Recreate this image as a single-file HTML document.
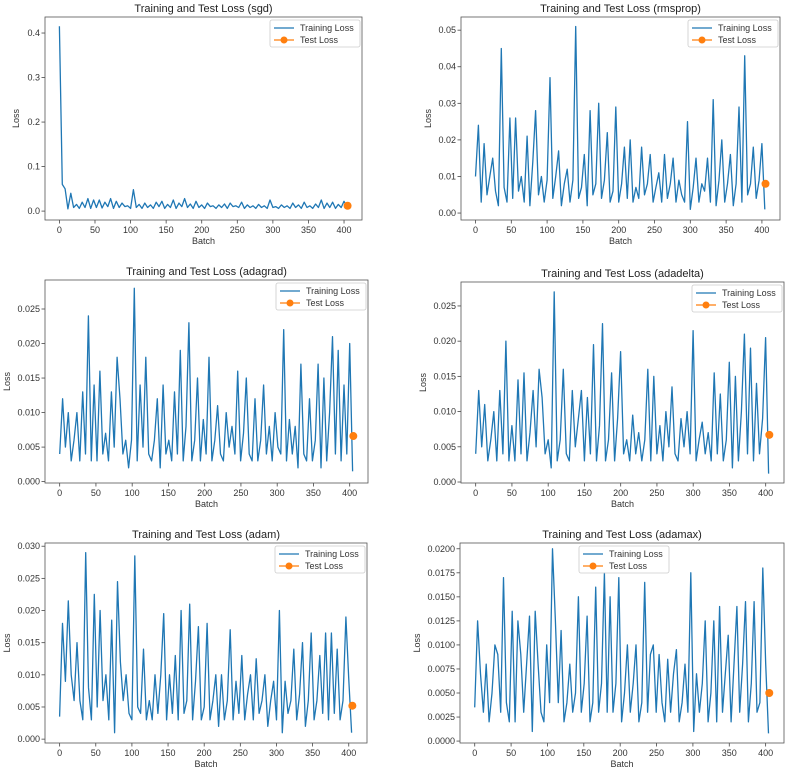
<!DOCTYPE html>
<html><head><meta charset="utf-8"><style>
body{margin:0;background:#fff;font-family:"Liberation Sans",sans-serif}
svg{display:block}
</style></head><body>
<svg id="fig" width="797" height="771" viewBox="0 0 797 771" xmlns="http://www.w3.org/2000/svg"></svg>
<script>
// All loss values in units of 1e-3; points span batches 0..lastBatch
const lastBatch = 404;
const testBatch = 405;
const sgdLoss = [415,60,50,5,40,8,15,6,20,8,28,6,25,8,25,7,20,10,28,6,22,8,18,10,12,6,48,8,15,6,18,8,14,6,20,10,22,6,15,8,25,6,18,10,28,8,16,6,22,8,14,6,18,10,12,6,14,8,16,6,18,10,12,8,20,6,14,8,12,6,15,8,12,6,25,8,10,6,14,8,12,6,18,8,14,6,20,8,12,6,16,8,25,6,18,8,20,6,15,8,22,10];
const rmspropLoss = [10,24,3,19,5,10,15,6,2,45,7,3,26,4,26,6,10,3,21,2,14,28,5,10,3,9,37,4,10,17,2,8,12,3,9,51,4,7,16,2,28,5,8,30,4,9,22,3,6,29,3,8,18,4,20,3,7,4,18,5,8,16,3,7,11,3,16,4,8,15,3,9,5,3,25,1,7,15,3,8,6,15,3,31,2,9,20,3,8,16,2,8,29,3,43,5,8,18,4,9,19,1];
const adagradLoss = [4,12,5,10,3,6,10,3,13,4,24,3,14,3,16,4,7,3,13,5,18,12,4,6,2,6,28,3,14,5,18,4,3,6,12,2,14,4,6,3,13,4,19,3,8,23,3,6,15,3,9,4,18,3,6,11,4,3,10,5,8,4,16,3,7,15,4,3,12,3,6,14,4,8,3,10,5,4,22,3,9,4,8,2,17,4,3,12,3,6,17,2,15,3,10,21,4,19,3,14,4,20,1.5];
const adadeltaLoss = [4,13,5,11,3,6,10,3,13,4,20,3,8,3,14.5,4,15.5,3,7,13,5,16,12,4,6,2,27,3,6,16,4,3,13,5,9,13,3,12,4,19.5,3,8,22.5,3,6,15.5,3,9,18.5,4,6,3,9.5,4,7,3,6,16,3,15,4,8,3,10,5,13.5,4,3,9,5,10,4,21.5,3,6,8.5,4,7,3,15.5,4,12.5,3,6,17,2,15,3,10,21,4,19,3,14,4,9,20.5,1.2];
const adamLoss = [3.5,18,9,21.5,10,6,15,6,3,29,8,3,22.5,5,20,6,10,3,18.5,1,24.5,12,6,10,4,3,28.5,5,4,14,3,6,3,10,4,10,19.5,3,10,4,13,3,20,4,6,21,3,9,17.5,3,5,18,3,6,10,2,10,3,6,17,3,9,4,13,3,7,10,3,12.5,4,6,10,2,6,9,3,20,1,9,4,6,14,3,7,15,2,6,16.5,3,6,13,4,16.5,3,16.5,4,14,3,6,19,9.5,1];
const adamaxLoss = [3.5,12.5,7,3,8,2,5,10,9,3,17,4,2,13.5,2,12.5,9,3,8,13,1,13.5,8,3,2,10,4,20,12.5,4,11.5,2,4,8,3,5,15,3,6,13,2,4,16,3,6,17.5,3,15,3,6,17,2,5,10,3,6,10,2,4,16.5,3,9,10,3,9,4,2,8.5,3,7,9.5,2,4,8,3,17.5,1,7,3,6,12.5,2,5,12.5,2,14,3,7,11,2,8,14,3,8,14.5,2,6,14.5,3,4,18,8,0.8];
const testLoss = [12,8,6.6,6.7,5.2,5.0];
const optimizers = ["sgd","rmsprop","adagrad","adadelta","adam","adamax"];
const xTicks = [0,50,100,150,200,250,300,350,400];
const yTicksSgd = [0,0.1,0.2,0.3,0.4];
const yTicksRms = [0,0.01,0.02,0.03,0.04,0.05];
const yTicksAda = [0,0.005,0.01,0.015,0.02,0.025];
const yTicksAdam = [0,0.005,0.01,0.015,0.02,0.025,0.03];
const yTicksAdamax = [0,0.0025,0.005,0.0075,0.01,0.0125,0.015,0.0175,0.02];

const series=[sgdLoss,rmspropLoss,adagradLoss,adadeltaLoss,adamLoss,adamaxLoss];
const yTickSets=[yTicksSgd,yTicksRms,yTicksAda,yTicksAda,yTicksAdam,yTicksAdamax];
const decimals=[1,2,3,3,3,4];
const boxes=[
 {l:45,r:362,t:17,b:220,ymin:-0.020,ymax:0.436,leg:'r'},
 {l:461,r:780,t:17,b:220,ymin:-0.0019,ymax:0.0536,leg:'r'},
 {l:45,r:368,t:280,b:483,ymin:-0.0002,ymax:0.0292,leg:'r'},
 {l:461,r:784,t:282,b:483,ymin:-0.00014,ymax:0.0284,leg:'r'},
 {l:45,r:367,t:543,b:743,ymin:-0.0006,ymax:0.0305,leg:'r'},
 {l:460,r:784,t:543,b:743,ymin:-0.0002,ymax:0.0206,leg:'c'}
];
const NS="http://www.w3.org/2000/svg";
const svg=document.getElementById('fig');
function mk(tag,attrs,parent){const e=document.createElementNS(NS,tag);for(const k in attrs)e.setAttribute(k,attrs[k]);parent.appendChild(e);return e;}
optimizers.forEach((opt,p)=>{
 const B=boxes[p];
 const x0=-20.25,x1=425.25;
 const sx=v=>B.l+(v-x0)/(x1-x0)*(B.r-B.l);
 const sy=v=>B.b-(v-B.ymin)/(B.ymax-B.ymin)*(B.b-B.t);
 const g=mk('g',{},svg);
 
 
 const title=mk('text',{x:(B.l+B.r)/2,y:B.t-5,'text-anchor':'middle','font-size':'11',fill:'#222'},g);
 title.textContent='Training and Test Loss ('+opt+')';
 
 
 xTicks.forEach(v=>{
  const x=sx(v);
  mk('line',{x1:x,x2:x,y1:B.b,y2:B.b+3.5,stroke:'#444','stroke-width':0.8},g);
  const t=mk('text',{x:x,y:B.b+13,'text-anchor':'middle','font-size':'9',fill:'#333'},g);
  t.textContent=v;
  
  
 });
 yTickSets[p].forEach(v=>{
  const y=sy(v);
  mk('line',{x1:B.l-3.5,x2:B.l,y1:y,y2:y,stroke:'#444','stroke-width':0.8},g);
  const t=mk('text',{x:B.l-5,y:y+3,'text-anchor':'end','font-size':'9',fill:'#333'},g);
  t.textContent=v.toFixed(decimals[p]);
  
  
 });
 const xl=mk('text',{x:(B.l+B.r)/2,y:B.b+24,'text-anchor':'middle','font-size':'9',fill:'#333'},g);
 xl.textContent='Batch';
 
 
 const yx=B.l-(decimals[p]>=4?40:decimals[p]==3?35:decimals[p]==2?30:26);
 const yl=mk('text',{x:yx,y:(B.t+B.b)/2,'text-anchor':'middle','font-size':'9',fill:'#333',transform:'rotate(-90 '+yx+' '+((B.t+B.b)/2)+')'},g);
 yl.textContent='Loss';
 
 
 const arr=series[p];
 const n=arr.length;
 const pts=arr.map((v,i)=>sx(i*lastBatch/(n-1)).toFixed(1)+','+sy(v*0.001).toFixed(1)).join(' ');
 const pl=mk('polyline',{points:pts,fill:'none',stroke:'#1f77b4','stroke-width':1.3,'stroke-linejoin':'round'},g);
 
 
 const c=mk('circle',{cx:sx(testBatch),cy:sy(testLoss[p]*0.001),r:4,fill:'#ff7f0e'},g);
 
 
 mk('rect',{x:B.l,y:B.t,width:B.r-B.l,height:B.b-B.t,fill:'none',stroke:'#555','stroke-width':0.8},g);
 const lw=90,lh=27;
 const lx=B.leg==='r'?B.r-lw-2:(B.l+B.r)/2-lw/2+2;
 const ly=B.t+3;
 const lg=mk('g',{},g);
 
 
 mk('rect',{x:lx,y:ly,width:lw,height:lh,fill:'#fff','fill-opacity':0.85,stroke:'#ccc','stroke-width':0.8,rx:2},lg);
 mk('line',{x1:lx+4,x2:lx+24,y1:ly+8,y2:ly+8,stroke:'#1f77b4','stroke-width':1.3},lg);
 const t1=mk('text',{x:lx+30,y:ly+11,'font-size':'9',fill:'#333'},lg);
 t1.textContent='Training Loss';
 
 
 mk('line',{x1:lx+4,x2:lx+24,y1:ly+20,y2:ly+20,stroke:'#ff7f0e','stroke-width':1.3},lg);
 mk('circle',{cx:lx+14,cy:ly+20,r:3.5,fill:'#ff7f0e'},lg);
 const t2=mk('text',{x:lx+30,y:ly+23,'font-size':'9',fill:'#333'},lg);
 t2.textContent='Test Loss';
 
 
});
</script>
</body></html>
